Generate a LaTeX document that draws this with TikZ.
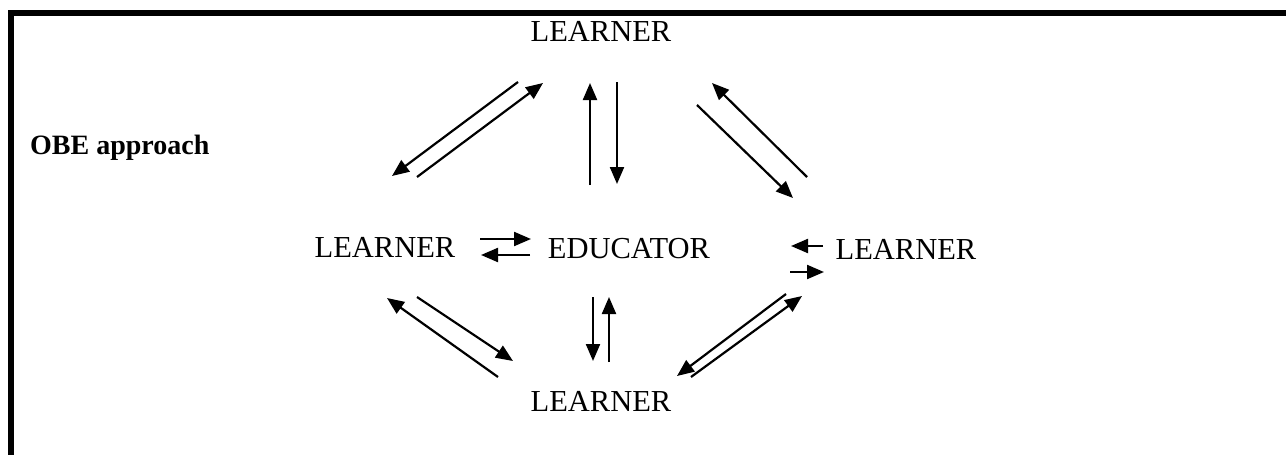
\documentclass[tikz,border=0pt]{standalone}
\usepackage{fontspec}
\setmainfont{Liberation Serif}
\usetikzlibrary{arrows.meta}
\begin{document}
\begin{tikzpicture}[x=1pt,y=-1pt,
  lbl/.style={font=\fontsize{30.5}{31}\selectfont, inner sep=0pt, anchor=base},
  ttl/.style={font=\fontsize{28}{28}\selectfont\bfseries, inner sep=0pt, anchor=base west},
  arr/.style={line width=2.2pt, -{Triangle[length=17pt,width=14pt]}},
  frame/.style={line width=6pt, line join=miter}]
\useasboundingbox (0,0) rectangle (1286,455);
\draw[frame] (10.5,470) -- (10.5,13) -- (1300,13);
% texts
\node[lbl] (top) at (601,41) {LEARNER};
\node[lbl] (left) at (385,257) {LEARNER};
\node[lbl] (edu) at (629,258) {EDUCATOR};
\node[lbl] (right) at (906,259) {LEARNER};
\node[lbl] (bot) at (601,411) {LEARNER};
\node[ttl] (obe) at (30,154) {OBE approach};
% arrow end points
\coordinate (a1s) at (518,82);  \coordinate (a1e) at (392,176);
\coordinate (a2s) at (417,177); \coordinate (a2e) at (543,83);
\coordinate (a3s) at (590,185); \coordinate (a3e) at (590,83);
\coordinate (a4s) at (617,82);  \coordinate (a4e) at (617,184);
\coordinate (a5s) at (807,177); \coordinate (a5e) at (712,83);
\coordinate (a6s) at (697,105); \coordinate (a6e) at (793,198);
\coordinate (a7s) at (480,239); \coordinate (a7e) at (531,239);
\coordinate (a8s) at (530,255); \coordinate (a8e) at (481,255);
\coordinate (a9s) at (823,246); \coordinate (a9e) at (791,246);
\coordinate (a10s) at (790,272); \coordinate (a10e) at (824,272);
\coordinate (a11s) at (498,377); \coordinate (a11e) at (387,298);
\coordinate (a12s) at (417,297); \coordinate (a12e) at (513,361);
\coordinate (a13s) at (593,297); \coordinate (a13e) at (593,361);
\coordinate (a14s) at (609,362); \coordinate (a14e) at (609,297);
\coordinate (a15s) at (691,377); \coordinate (a15e) at (802,296);
\coordinate (a16s) at (786,294); \coordinate (a16e) at (677,376);
\foreach \i in {1,...,16} {\draw[arr] (a\i s) -- (a\i e);}
\end{tikzpicture}
\end{document}
